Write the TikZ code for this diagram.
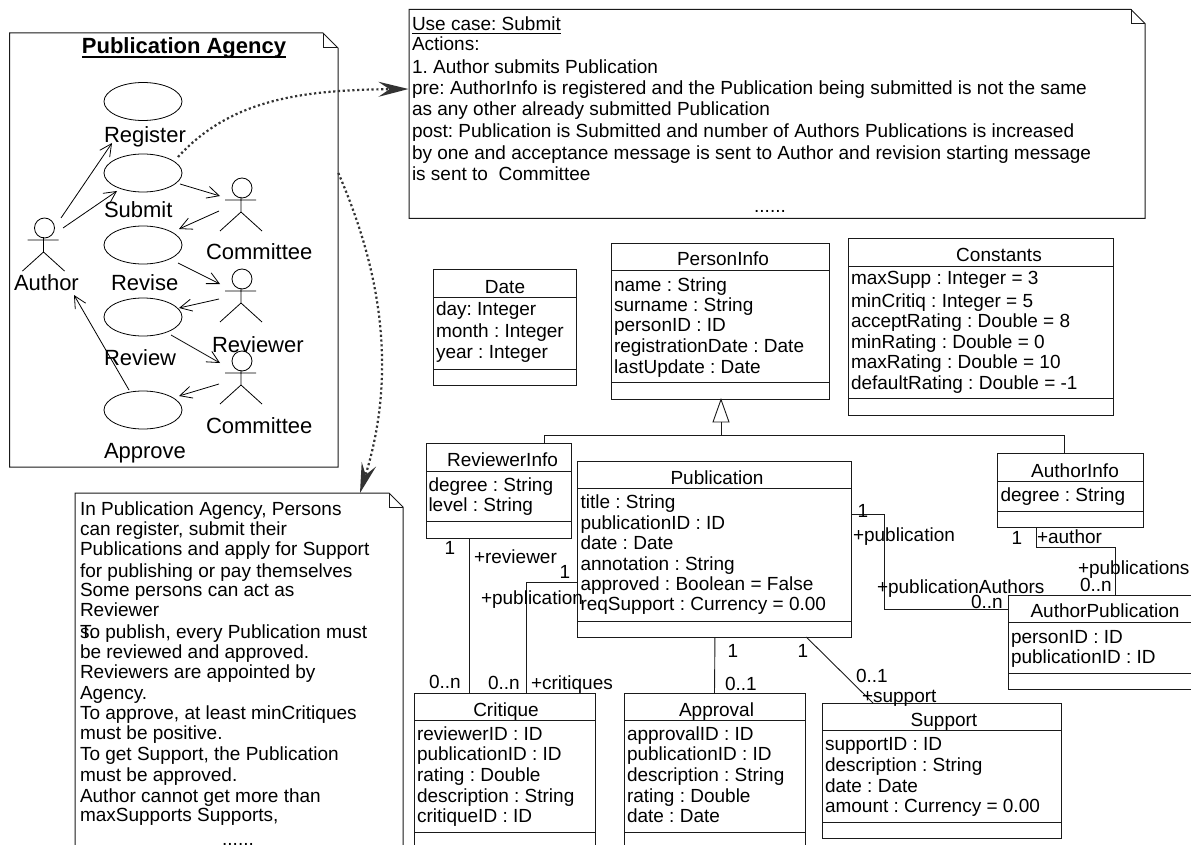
\documentclass[tikz,border=0pt]{standalone}
\usepackage{fontspec}
\setmainfont{Liberation Sans}
\frenchspacing
\usetikzlibrary{arrows.meta,calc,shapes.geometric}
\definecolor{ink}{HTML}{1A1A1A}
\definecolor{dots}{HTML}{333333}
\tikzset{
  x=1pt,y=-1pt,
  txt/.style={inner sep=0pt,outer sep=0pt,anchor=mid west,yshift=-5pt,font=\fontsize{19}{22}\selectfont,text=black},
  ctr/.style={inner sep=0pt,outer sep=0pt,anchor=mid,yshift=-5pt,font=\fontsize{19}{22}\selectfont,text=black},
  uc/.style={inner sep=0pt,outer sep=0pt,anchor=mid west,yshift=-5pt,font=\fontsize{22}{26}\selectfont,text=black},
  boxshape/.style={draw=ink,fill=white,line width=1pt,inner sep=0pt,outer sep=0pt},
  sep/.style={draw=ink,line width=1pt},
  wire/.style={draw=ink,line width=.9pt},
  oarrow/.style={draw=black,line width=.8pt,-{Straight Barb[length=12pt,width=12pt,line width=.8pt]}},
  usecase/.style={draw=black,fill=white,ellipse,line width=.8pt,minimum width=78pt,minimum height=38pt,inner sep=0pt,outer sep=0pt},
  headc/.style={draw=black,circle,line width=.8pt,minimum size=20pt,inner sep=0pt,outer sep=0pt},
  dotarrow/.style={draw=dots,line width=2.2pt,dash pattern=on 2.2pt off 2.6pt,-{Stealth[length=30pt,width=15pt,inset=11pt]}},
}
\newcommand{\umlbox}[7]{% name x1 y1 x2 y2 line1 line2
  \pgfmathsetmacro\bw{#4-#2}\pgfmathsetmacro\bh{#5-#3}
  \node[boxshape,minimum width=\bw pt,minimum height=\bh pt] (#1) at ({(#2+#4)/2},{(#3+#5)/2}) {};
  \draw[sep] (#2,#6) -- (#4,#6) (#2,#7) -- (#4,#7);
}
\newcommand{\notebox}[6]{% name x1 y1 x2 y2 fold
  \pgfmathsetmacro\bw{#4-#2}\pgfmathsetmacro\bh{#5-#3}
  \node[inner sep=0pt,outer sep=0pt,minimum width=\bw pt,minimum height=\bh pt] (#1) at ({(#2+#4)/2},{(#3+#5)/2}) {};
  \draw[boxshape] (#2,#3) -- ({#4-#6},#3) -- (#4,{#3+#6}) -- (#4,#5) -- (#2,#5) -- cycle;
  \draw[sep] ({#4-#6},#3) -- ({#4-#6},{#3+#6}) -- (#4,{#3+#6});
}
\newcommand{\actorfig}[3]{% name hx hy
  \node[headc] (#1) at (#2,#3) {};
  \draw[black,line width=.8pt]
    ({#2-1},{#3+9}) -- ({#2-1},{#3+24})
    ({#2-17},{#3+12}) -- ({#2+14},{#3+12})
    ({#2-22},{#3+43}) -- ({#2-1},{#3+24}) -- ({#2+20},{#3+43});
}
\begin{document}
\begin{tikzpicture}
\useasboundingbox (0,0) rectangle (1191,845);
\fill[white] (0,0) rectangle (1191,845);

% ---- use case note
\notebox{note1}{9.5}{33}{338}{467}{15}
\node[inner sep=0pt,outer sep=0pt,anchor=mid,yshift=-5pt,font=\fontsize{22}{26}\selectfont\bfseries] (title1) at (184,46) {Publication Agency};
\draw[black,line width=1.8pt] ([yshift=-3pt]title1.base west) -- ([yshift=-3pt]title1.base east);

\node[usecase] (eReg) at (143,101.5) {};
\node[usecase] (eSub) at (143,173) {};
\node[usecase] (eRev) at (143,245) {};
\node[usecase] (eRvw) at (143,317) {};
\node[usecase] (eApp) at (143,410) {};
\node[uc] (lReg) at (104,135) {Register};
\node[uc] (lSub) at (104,210) {Submit};
\node[uc] (lRev) at (111,283) {Revise};
\node[uc] (lRvw) at (104,358) {Review};
\node[uc] (lApp) at (104,451) {Approve};

\actorfig{actA}{44.5}{228}
\actorfig{actC}{242}{188}
\actorfig{actR}{242}{279}
\actorfig{actD}{242}{361}
\node[uc] (lA) at (14,283) {Author};
\node[uc] (lC) at (206,252) {Committee};
\node[uc] (lR) at (212,345) {Reviewer};
\node[uc] (lD) at (206,426) {Committee};

\draw[oarrow] ($(actA)+(16.5,-10)$) -- ($(eReg)+(-31,41.5)$);
\draw[oarrow] ($(actA)+(18.5,0)$) -- ($(eSub)+(-26,18)$);
\draw[oarrow] ($(eSub)+(37,11)$) -- ($(actC)+(-22,8)$);
\draw[oarrow] ($(actC)+(-23,23)$) -- ($(eRev)+(36,-16)$);
\draw[oarrow] ($(eRev)+(35,18)$) -- ($(actR)+(-22,5)$);
\draw[oarrow] ($(actR)+(-23,20)$) -- ($(eRvw)+(36,-9)$);
\draw[oarrow] ($(eRvw)+(28,18)$) -- ($(actD)+(-22,2)$);
\draw[oarrow] ($(actD)+(-23,23)$) -- ($(eApp)+(36,-14)$);
\draw[oarrow] ($(eApp)+(-14,-20)$) -- ($(actA)+(29.5,67)$);

% ---- top note
\notebox{note2}{409}{9.5}{1145}{218.5}{14}
\node[txt] (ucT) at (412,23) {Use case: Submit};
\draw[black,line width=1pt] ([yshift=-2.5pt]ucT.base west) -- ([yshift=-2.5pt]ucT.base east);
\foreach \y/\t in {43/{Actions:},66/{1. Author submits Publication},
  87/{pre: AuthorInfo is registered and the Publication being submitted is not the same},
  108/{as any other already submitted Publication},
  130/{post: Publication is Submitted and number of Authors Publications is increased},
  152/{by one and acceptance message is sent to Author and revision starting message},
  173/{is sent to\ \ Committee}}
  \node[txt] (uc-\y) at (412,\y) {\t};
\node[ctr] (ucdots) at (770,205) {......};

% ---- lower left note
\notebox{note3}{75}{493}{403}{846.5}{14}
\foreach \y/\t in {508/{In Publication Agency, Persons},528/{can register, submit their},
  548/{Publications and apply for Support},570/{for publishing or pay themselves},
  589/{Some persons can act as},609/{Reviewer},631/{s.},651/{be reviewed and approved.},
  671/{Reviewers are appointed by},692/{Agency.},712/{To approve, at least minCritiques},
  732/{must be positive.},753/{To get Support, the Publication},774/{must be approved.},
  795/{Author cannot get more than},814/{maxSupports Supports,}}
  \node[txt] (n3-\y) at (80,\y) {\t};
\node[txt] (n3-631b) at (80,631) {To publish, every Publication must};
\node[ctr] (n3dots) at (238,838) {......};

% ---- classes
\umlbox{date}{433}{269}{576}{385}{297}{369}
\node[ctr] (dateT) at (505,286) {Date};
\foreach \y/\t in {308/{day: Integer},330/{month : Integer},351/{year : Integer}}
  \node[txt] (date-\y) at (436,\y) {\t};

\umlbox{pinfo}{611}{243}{829}{399.5}{270.5}{382.5}
\node[ctr] (pinfoT) at (723,258) {PersonInfo};
\foreach \y/\t in {284/{name : String},304/{surname : String},324/{personID : ID},345/{registrationDate : Date},366/{lastUpdate : Date}}
  \node[txt] (pinfo-\y) at (614,\y) {\t};

\umlbox{const}{848}{238}{1113}{415.5}{266}{398}
\node[ctr] (constT) at (999,254) {Constants};
\foreach \y/\t in {277/{maxSupp : Integer = 3},300/{minCritiq : Integer = 5},320/{acceptRating : Double = 8},341/{minRating : Double = 0},361/{maxRating : Double = 10},382/{defaultRating : Double = -1}}
  \node[txt] (const-\y) at (851,\y) {\t};

\umlbox{rinfo}{426}{443}{571}{538}{471}{521}
\node[ctr] (rinfoT) at (502.5,459) {ReviewerInfo};
\foreach \y/\t in {484/{degree : String},504/{level : String}}
  \node[txt] (rinfo-\y) at (428.5,\y) {\t};

\umlbox{pub}{577}{461}{851.5}{637}{488}{621}
\node[ctr] (pubT) at (717,477) {Publication};
\foreach \y/\t in {501/{title : String},522/{publicationID : ID},542/{date : Date},563/{annotation : String},583/{approved : Boolean = False},603/{reqSupport : Currency = 0.00}}
  \node[txt] (pub-\y) at (580.5,\y) {\t};

\umlbox{ainfo}{997}{453}{1143}{527}{481}{511}
\node[ctr] (ainfoT) at (1075,470) {AuthorInfo};
\node[txt] (ainfo-a) at (1000.5,494) {degree : String};

\umlbox{apub}{1008}{595}{1193}{689}{622}{673}
\node[ctr] (apubT) at (1105,610) {AuthorPublication};
\foreach \y/\t in {636/{personID : ID},656/{publicationID : ID}}
  \node[txt] (apub-\y) at (1011,\y) {\t};

\umlbox{crit}{414}{693}{595}{846.5}{720}{832}
\node[ctr] (critT) at (506,709) {Critique};
\foreach \y/\t in {733/{reviewerID : ID},753/{publicationID : ID},774/{rating : Double},795/{description : String},815/{critiqueID : ID}}
  \node[txt] (crit-\y) at (417,\y) {\t};

\umlbox{appr}{624}{693}{805}{846.5}{720}{832}
\node[ctr] (apprT) at (716.5,709) {Approval};
\foreach \y/\t in {733/{approvalID : ID},753/{publicationID : ID},774/{description : String},795/{rating : Double},815/{date : Date}}
  \node[txt] (appr-\y) at (627,\y) {\t};

\umlbox{supp}{822}{703}{1061}{838}{730}{822}
\node[ctr] (suppT) at (944,719) {Support};
\foreach \y/\t in {743/{supportID : ID},764/{description : String},785/{date : Date},805/{amount : Currency = 0.00}}
  \node[txt] (supp-\y) at (825,\y) {\t};

% ---- generalisation
\coordinate (genbase) at ($(pinfo.south)+(1,22.5)$);
\coordinate (genj) at ($(pinfo.south)+(1,35.5)$);
\draw[wire,fill=white] ($(pinfo.south)+(1,0)$) -- ($(genbase)+(-8,0)$) -- ($(genbase)+(8,0)$) -- cycle;
\draw[wire] (genbase) -- (genj);
\draw[wire] ($(rinfo.north)+(45.5,0)$) |- (genj);
\draw[wire] ($(ainfo.north)+(-6,0)$) |- (genj);

% ---- associations
\draw[wire] ($(rinfo.south)+(-29.5,0)$) -- ($(crit.north)+(-35.5,0)$);
\draw[wire] ($(pub.west)+(0,33)$) -| ($(crit.north)+(21.5,0)$);
\draw[wire] ($(pub.east)+(0,-35)$) -- ++(33,0) |- ($(apub.west)+(0,-33)$);
\draw[wire] ($(ainfo.south)+(-34,0)$) -- ++(0,20) -| ($(apub.north)+(14.5,0)$);
\draw[wire] ($(pub.south)+(.7,0)$) -- (appr.north);
\draw[wire] ($(pub.south)+(92,0)$) -- ($(supp.north)+(-68.5,0)$);

% ---- association labels
\node[ctr] (m1) at (450,547) {1};
\node[txt] (m2) at (474,556) {+reviewer};
\node[ctr] (m3) at (565,571) {1};
\node[txt] (m4) at (481,597) {+publication};
\node[txt] (m5) at (429,681) {0..n};
\node[txt] (m6) at (488,682) {0..n};
\node[txt] (m7) at (531,682) {+critiques};
\node[ctr] (m8) at (863,510) {1};
\node[txt] (m9) at (853,534) {+publication};
\node[txt] (m10) at (877,586) {+publicationAuthors};
\node[txt] (m11) at (971,601) {0..n};
\node[ctr] (m12) at (1017,537) {1};
\node[txt] (m13) at (1037,536) {+author};
\node[txt] (m14) at (1078,567) {+publications};
\node[txt] (m15) at (1080,584) {0..n};
\node[ctr] (m16) at (733,650) {1};
\node[txt] (m17) at (725,683) {0..1};
\node[ctr] (m18) at (803,650) {1};
\node[txt] (m19) at (856,675) {0..1};
\node[txt] (m20) at (862,695) {+support};

% ---- dotted links
\draw[dotarrow] ($(eSub)+(35,-16)$) .. controls (230,100) and (300,90) .. ($(note2.west)+(-.5,-25)$);
\draw[dotarrow] ($(note1.east)+(.3,-77)$) .. controls (385,280) and (395,380) .. ($(note3.north)+(121,0)$);
\end{tikzpicture}
\end{document}
